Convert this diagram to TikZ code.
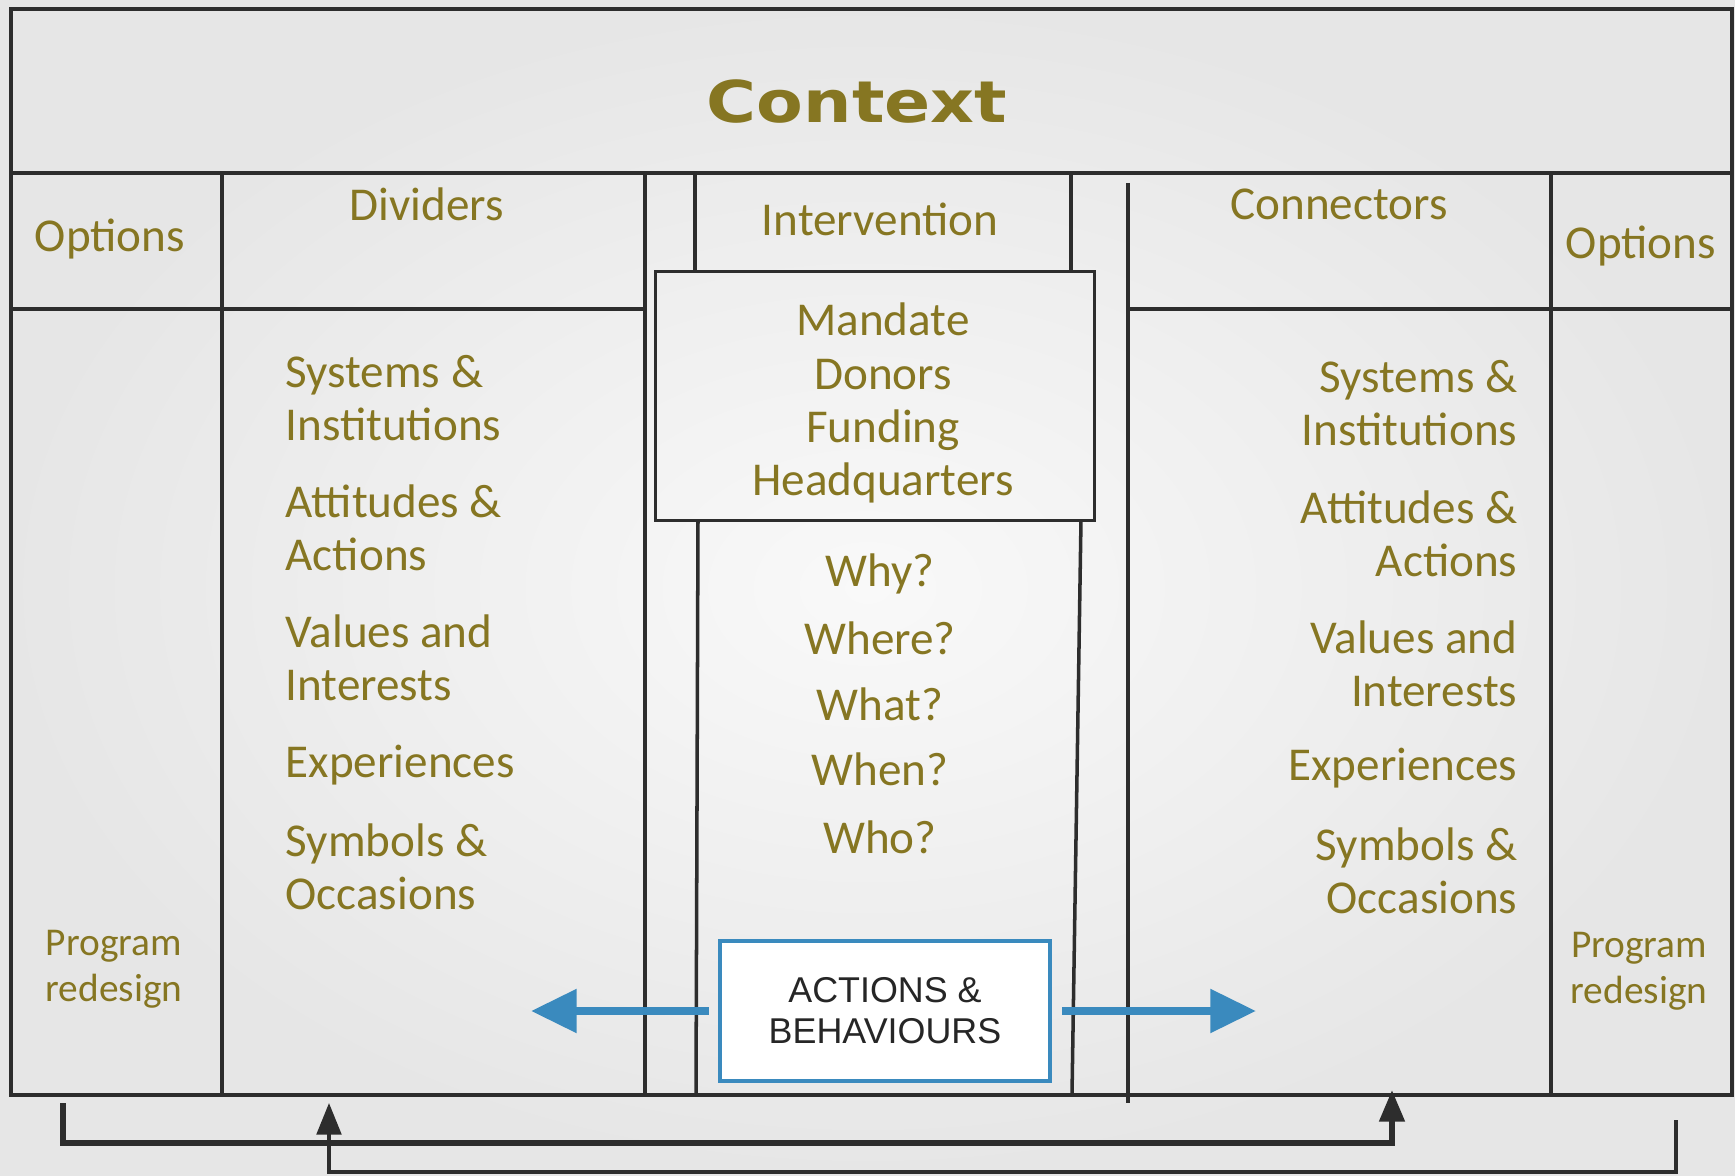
\documentclass[tikz,border=0pt]{standalone}
\usepackage{fontspec}
\setmainfont{Carlito}
\newfontfamily\titlefont{DejaVu Sans}
\newfontfamily\boxfont{Liberation Sans}
\usetikzlibrary{arrows.meta}
\definecolor{textgold}{RGB}{134,118,34}
\definecolor{linegray}{RGB}{45,45,45}
\definecolor{arrowblue}{RGB}{58,138,190}
\definecolor{bgin}{RGB}{249,249,249}
\definecolor{bgout}{RGB}{230,230,230}
\tikzset{
  grid/.style={draw=linegray, line width=1pt},
  lbl/.style={text=textgold, font=\fontsize{13.4}{15.1}\selectfont, inner sep=0pt},
  small/.style={text=textgold, font=\fontsize{11.2}{13.2}\selectfont, align=center, inner sep=0pt},
  bluearrow/.style={draw=arrowblue, line width=2.3pt, -{Triangle[length=13pt,width=12pt]}},
  loop/.style={draw=linegray, -{Triangle[length=9pt,width=7pt]}}
}
\begin{document}
\begin{tikzpicture}[x=0.01cm, y=-0.01cm]
    \useasboundingbox (0,0) rectangle (1735,1176);
    \shade[inner color=bgin, outer color=bgout] (0,0) rectangle (1735,1176);
    % table frame
    \draw[grid] (11,9) rectangle (1732,1095);
    \draw[grid] (11,173) -- (1732,173);
    \draw[grid] (11,309) -- (645,309);
    \draw[grid] (1128,309) -- (1732,309);
    \draw[grid] (222,173) -- (222,1095);
    \draw[grid] (645,173) -- (645,1095);
    \draw[grid] (695,173) -- (695,271);
    \draw[grid] (1071,173) -- (1071,271);
    \draw[grid] (698,520) -- (696,1095);
    \draw[grid] (1081,520) -- (1072,1095);
    \draw[grid] (1128,183) -- (1128,1103);
    \draw[grid] (1551,173) -- (1551,1095);
    % headings
    \node[text=textgold, font=\titlefont\bfseries\fontsize{16.4}{18}\selectfont] (context) at (857,102) {\scalebox{1.18}[1]{Context}};
    \node[lbl] (optl) at (110,239) {Options};
    \node[lbl] (div) at (427,204) {Dividers};
    \node[lbl] (interv) at (880,219) {Intervention};
    \node[lbl] (conn) at (1339,204) {Connectors};
    \node[lbl] (optr) at (1641,246) {Options};
    \node[grid, minimum width=4.39cm, minimum height=2.49cm] (mandate) at (875,396) {};
    \node[lbl, align=center] (mandtxt) at (883,403) {Mandate\\Donors\\Funding\\Headquarters};
    % lists
    \foreach \t/\y [count=\i] in {{Systems \&\\Institutions}/398, {Attitudes \&\\Actions}/528,
        {Values and\\Interests}/658, {Experiences}/765, {Symbols \&\\Occasions}/867}
        \node[lbl, align=left, anchor=west] (dv\i) at (285,\y) {\t};
    \foreach \t/\y [count=\i] in {{Systems \&\\Institutions}/403, {Attitudes \&\\Actions}/534,
        {Values and\\Interests}/664, {Experiences}/768, {Symbols \&\\Occasions}/871}
        \node[lbl, align=right, anchor=east] (cn\i) at (1518,\y) {\t};
    \foreach \t/\y [count=\i] in {Why?/574, Where?/638, What?/704, When?/769, Who?/837}
        \node[lbl] (q\i) at (880,\y) {\t};
    \node[small] (progl) at (114,969) {Program\\redesign};
    \node[small] (progr) at (1639,971) {Program\\redesign};
    % actions box and arrows
    \node[draw=arrowblue, line width=1.2pt, fill=white, minimum width=3.3cm, minimum height=1.4cm,
        align=center, font=\boxfont\fontsize{10.2}{11.6}\selectfont, text=black!85] (act) at (885,1011)
        {ACTIONS \&\\BEHAVIOURS};
    \coordinate (lt) at (531,1011);
    \coordinate (rt) at (1256,1011);
    \draw[bluearrow] ([xshift=-0.09cm]act.west) -- (lt);
    \draw[bluearrow] ([xshift=0.1cm]act.east) -- (rt);
    % feedback loops
    \coordinate (fa) at (63,1103);
    \coordinate (fb) at (1392,1090);
    \coordinate (fc) at (1676,1120);
    \coordinate (fd) at (329,1103);
    \draw[loop, line width=1.7pt] (fa) -- ++(0,40) -| (fb);
    \draw[loop, line width=1pt] (fc) -- ++(0,52) -| (fd);
\end{tikzpicture}
\end{document}
